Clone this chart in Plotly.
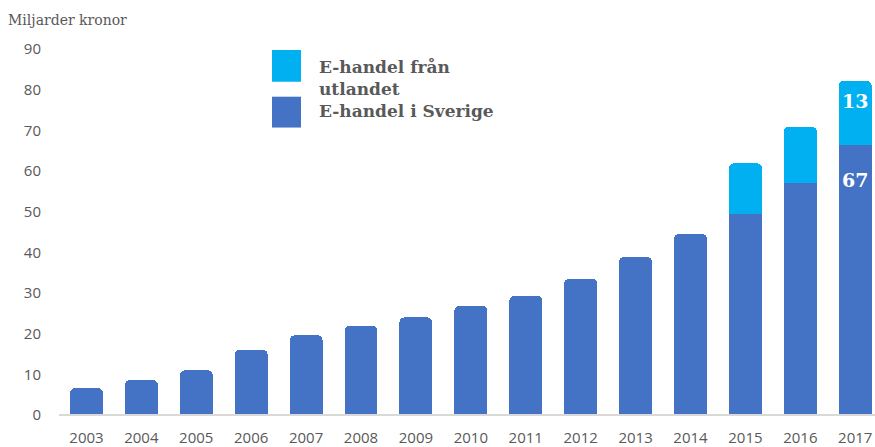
import plotly.graph_objects as go

years = [str(y) for y in range(2003, 2018)]
sverige = [6.6, 8.6, 11.0, 16.1, 19.6, 22.0, 24.0, 26.9, 29.3, 33.5, 38.9, 44.5, 49.4, 57.0, 66.3]
utlandet = [None] * 12 + [12.5, 13.9, 15.9]
label_sverige = "67"
label_utlandet = "13"

BLUE = "#4472C4"
CYAN = "#00B0F0"
GREY = "#595959"

W, H = 875, 447
ML, MR, MT, MB = 59, 0, 40, 22
PW, PH = W - ML - MR, H - MT - MB

def px(x):
    return (x - ML) / PW

def py(y):
    return (H - MB - y) / PH

fig = go.Figure()
fig.add_trace(go.Bar(x=years, y=sverige, name="E-handel i Sverige",
                     marker=dict(color=BLUE, cornerradius=5, line=dict(width=0)),
                     width=0.6, showlegend=False))
fig.add_trace(go.Bar(x=years, y=utlandet, name="E-handel från utlandet",
                     marker=dict(color=CYAN, cornerradius=5, line=dict(width=0)),
                     width=0.6, showlegend=False))

last = len(years) - 1
total_last = sverige[last] + utlandet[last]
fig.add_annotation(xref="x", yref="y", x=last, y=total_last, yshift=-20, text=label_utlandet,
                   showarrow=False,
                   font=dict(family="DejaVu Serif", size=19, color="white", weight="bold"))
fig.add_annotation(xref="x", yref="y", x=last, y=sverige[last], yshift=-35, text=label_sverige,
                   showarrow=False,
                   font=dict(family="DejaVu Serif", size=19, color="white", weight="bold"))

# baseline
fig.add_shape(type="line", xref="paper", yref="y", x0=0, x1=1, y0=0, y1=0,
              line=dict(color="#d9d9d9", width=2), layer="above")

# custom legend
fig.add_shape(type="rect", xref="paper", yref="paper", x0=px(272), x1=px(301), y0=py(50), y1=py(82),
              fillcolor=CYAN, line=dict(width=0))
fig.add_shape(type="rect", xref="paper", yref="paper", x0=px(272), x1=px(301), y0=py(97), y1=py(128),
              fillcolor=BLUE, line=dict(width=0))
leg_font = dict(family="DejaVu Serif", size=17, color=GREY, weight="bold")
fig.add_annotation(xref="paper", yref="paper", x=px(317), y=py(67), text="E-handel från", showarrow=False,
                   xanchor="left", yanchor="middle", font=leg_font)
fig.add_annotation(xref="paper", yref="paper", x=px(317), y=py(89), text="utlandet", showarrow=False,
                   xanchor="left", yanchor="middle", font=leg_font)
fig.add_annotation(xref="paper", yref="paper", x=px(317), y=py(111), text="E-handel i Sverige", showarrow=False,
                   xanchor="left", yanchor="middle", font=leg_font)

fig.update_layout(
    width=W, height=H,
    margin=dict(l=ML, r=MR, t=MT, b=MB),
    barmode="stack",
    plot_bgcolor="white", paper_bgcolor="white",
    title=dict(text="Miljarder kronor", x=8 / W, xref="container", xanchor="left",
               y=1 - 20 / H, yref="container", yanchor="middle",
               font=dict(family="DejaVu Serif", size=14, color=GREY)),
    xaxis=dict(type="category", range=[-0.5, 14.36], showgrid=False, showline=False, ticks="",
               tickfont=dict(family="Open Sans", size=15, color=GREY), ticklabelstandoff=4),
    yaxis=dict(range=[-1.96, 92.2], tickvals=list(range(0, 100, 10)), showgrid=False, zeroline=False,
               showline=False, ticks="", ticklabelstandoff=17,
               tickfont=dict(family="Open Sans", size=15, color=GREY)),
)

fig.write_html("out.html")
